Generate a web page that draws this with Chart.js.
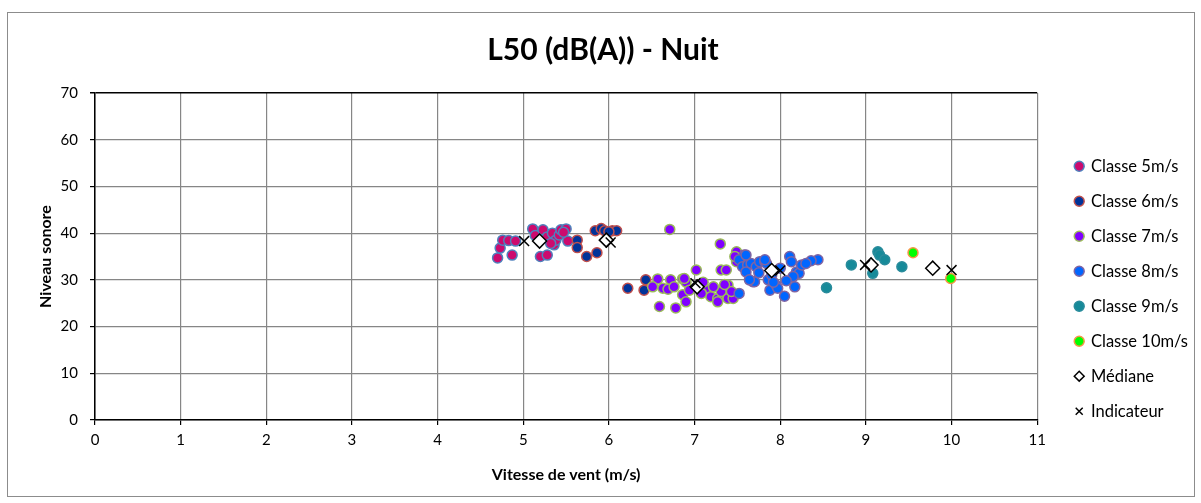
<!DOCTYPE html>
<html>
<head>
<meta charset="utf-8">
<script src="https://cdn.jsdelivr.net/npm/chart.js@4/dist/chart.umd.min.js"></script>
<style>
  body { margin: 0; background: #fff; }
  #cadre {
    position: absolute; left: 7px; top: 12px;
    width: 1188px; height: 485px;
    border: 1px solid #8c8c8c; box-sizing: border-box;
  }
</style>
</head>
<body>
<div id="cadre"><canvas id="graphique"></canvas></div>
<script>
// Vitesse de vent (m/s) et niveau sonore (dB(A)) par classe
const classe5X = [4.70, 4.73, 4.76, 4.83, 4.87, 4.91, 5.11, 5.14, 5.23, 5.20, 5.28, 5.28, 5.34, 5.36, 5.38, 5.42, 5.44, 5.50, 5.52, 5.47, 5.32];
const classe5Y = [34.7, 36.8, 38.5, 38.4, 35.3, 38.3, 40.9, 39.5, 40.7, 35.0, 35.3, 39.2, 40.0, 37.5, 38.5, 39.6, 40.7, 40.9, 38.3, 40.2, 37.8];

const classe6X = [5.63, 5.63, 5.74, 5.86, 5.84, 5.91, 5.95, 6.04, 6.09, 6.00, 6.22, 6.43, 6.41];
const classe6Y = [38.5, 36.9, 35.0, 35.8, 40.5, 41.0, 40.5, 40.5, 40.5, 40.3, 28.2, 30.0, 27.8];

const classe7X = [6.57, 6.51, 6.63, 6.72, 6.69, 6.76, 6.86, 6.90, 7.02, 6.86, 6.59, 6.78, 6.90, 6.88, 6.94, 7.15, 7.19, 7.27, 7.31, 7.37,
                  7.31, 7.39, 7.08, 7.30, 6.71, 7.49, 7.49, 7.39, 7.45, 7.43, 7.27, 7.22, 7.10, 7.35, 7.47];
const classe7Y = [30.2, 28.5, 28.2, 30.0, 28.0, 28.5, 30.2, 29.5, 32.1, 26.8, 24.3, 24.0, 25.3, 30.3, 27.8, 27.8, 26.4, 26.0, 32.1, 32.1,
                  27.5, 26.0, 27.1, 37.7, 40.8, 36.0, 33.9, 28.9, 26.0, 27.5, 25.3, 28.5, 29.5, 29.0, 35.0];

const classe8X = [7.58, 7.52, 7.56, 7.62, 7.66, 7.72, 7.76, 7.82, 7.68, 7.52, 7.60, 7.86, 7.88, 7.95, 7.97, 8.05, 8.17, 8.19, 8.22, 8.25,
                  8.44, 7.84, 7.60, 7.82, 8.11, 8.13, 8.36, 8.15, 7.70, 7.90, 8.00, 8.07, 7.75, 7.64, 7.92, 8.30];
const classe8Y = [35.3, 34.3, 32.8, 33.2, 33.5, 32.8, 33.9, 33.9, 29.6, 27.1, 31.7, 30.0, 27.8, 28.9, 28.2, 26.5, 28.5, 31.7, 31.4, 33.2,
                  34.3, 33.5, 35.3, 34.3, 35.0, 33.9, 34.1, 30.7, 29.6, 31.0, 32.5, 29.8, 31.5, 30.0, 29.5, 33.5];

const classe9X = [8.83, 9.14, 9.16, 9.22, 9.08, 9.42, 8.54];
const classe9Y = [33.2, 36.0, 35.3, 34.3, 31.4, 32.8, 28.3];

const classe10X = [9.55, 9.99];
const classe10Y = [35.8, 30.3];

const medianeX = [5.19, 5.97, 7.03, 7.90, 9.06, 9.78];
const medianeY = [38.3, 38.5, 28.5, 32.0, 33.2, 32.5];

const indicateurX = [5.01, 6.02, 7.01, 8.00, 8.99, 10.0];
const indicateurY = [38.3, 38.0, 29.3, 32.0, 33.2, 32.1];

const points = (xs, ys) => xs.map((x, i) => ({ x: x, y: ys[i] }));

const classe = (label, xs, ys, fond, bord, ordre) => ({
  label: label,
  data: points(xs, ys),
  backgroundColor: fond,
  borderColor: bord,
  borderWidth: 1.5,
  pointRadius: 5,
  pointStyle: 'circle',
  order: ordre
});

const police = 'Lato, "Liberation Sans", sans-serif';

// pousse la légende un peu à droite, comme dans Excel
const decalageLegende = {
  id: 'decalageLegende',
  afterLayout(chart) {
    chart.legend.left += 20;
    chart.legend.right += 20;
  }
};

new Chart(document.getElementById('graphique'), {
  type: 'scatter',
  data: {
    datasets: [
      classe('Classe 5m/s', classe5X, classe5Y, '#cc0a6e', '#4f81bd', 7),
      classe('Classe 6m/s', classe6X, classe6Y, '#003399', '#c0504d', 6),
      classe('Classe 7m/s', classe7X, classe7Y, '#8000ff', '#9bbb59', 5),
      classe('Classe 8m/s', classe8X, classe8Y, '#0066ff', '#8064a2', 4),
      classe('Classe 9m/s', classe9X, classe9Y, '#168a99', '#2a8c9c', 3),
      classe('Classe 10m/s', classe10X, classe10Y, '#00ff00', '#f79646', 2),
      {
        label: 'Médiane',
        data: points(medianeX, medianeY),
        pointStyle: 'rectRot',
        pointRadius: 7,
        backgroundColor: '#fff',
        borderColor: '#000',
        borderWidth: 1.5,
        order: 1
      },
      {
        label: 'Indicateur',
        data: points(indicateurX, indicateurY),
        pointStyle: 'crossRot',
        pointRadius: 7,
        backgroundColor: '#000',
        borderColor: '#000',
        borderWidth: 1.5,
        order: 0
      }
    ]
  },
  plugins: [decalageLegende],
  options: {
    responsive: true,
    maintainAspectRatio: false,
    animation: false,
    layout: { padding: { left: 20, right: 16, top: 0, bottom: 0 } },
    plugins: {
      title: {
        display: true,
        text: 'L50 (dB(A)) - Nuit',
        font: { family: police, size: 30, weight: 'bold' },
        color: '#000',
        padding: { top: 19, bottom: 25 }
      },
      legend: {
        position: 'right',
        title: { display: true, text: ' ', font: { size: 12 }, padding: 27 },
        labels: {
          usePointStyle: true,
          sort: (a, b) => a.datasetIndex - b.datasetIndex, // ordre des séries, pas l'ordre de dessin
          boxWidth: 7,
          boxHeight: 7,
          padding: 18.5,
          color: '#000',
          font: { family: police, size: 16.5 }
        }
      },
      tooltip: { enabled: false }
    },
    scales: {
      x: {
        type: 'linear',
        min: 0,
        max: 11,
        afterFit: s => { s.height = 76; },
        ticks: { stepSize: 1, color: '#000', padding: 6, font: { family: police, size: 15 } },
        grid: { color: '#868686', tickColor: '#000', tickLength: 5, lineWidth: 1.2 },
        border: { color: '#000', width: 1.5 },
        title: {
          display: true,
          text: 'Vitesse de vent (m/s)',
          color: '#000',
          font: { family: police, size: 16, weight: 'bold' },
          padding: { top: 4, bottom: 12 }
        }
      },
      y: {
        min: 0,
        max: 70,
        afterFit: s => { s.width = 67; },
        ticks: { stepSize: 10, color: '#000', padding: 12, font: { family: police, size: 15 } },
        grid: {
          color: c => (c.tick && c.tick.value === 70 ? '#000' : '#868686'),
          lineWidth: c => (c.tick && c.tick.value === 70 ? 1.5 : 1.2),
          tickColor: '#000',
          tickLength: 5
        },
        border: { color: '#000', width: 1.5 },
        title: {
          display: true,
          text: 'Niveau sonore',
          color: '#000',
          font: { family: police, size: 16, weight: 'bold' },
          padding: { top: 8, bottom: 0 }
        }
      }
    }
  }
});
</script>
</body>
</html>
